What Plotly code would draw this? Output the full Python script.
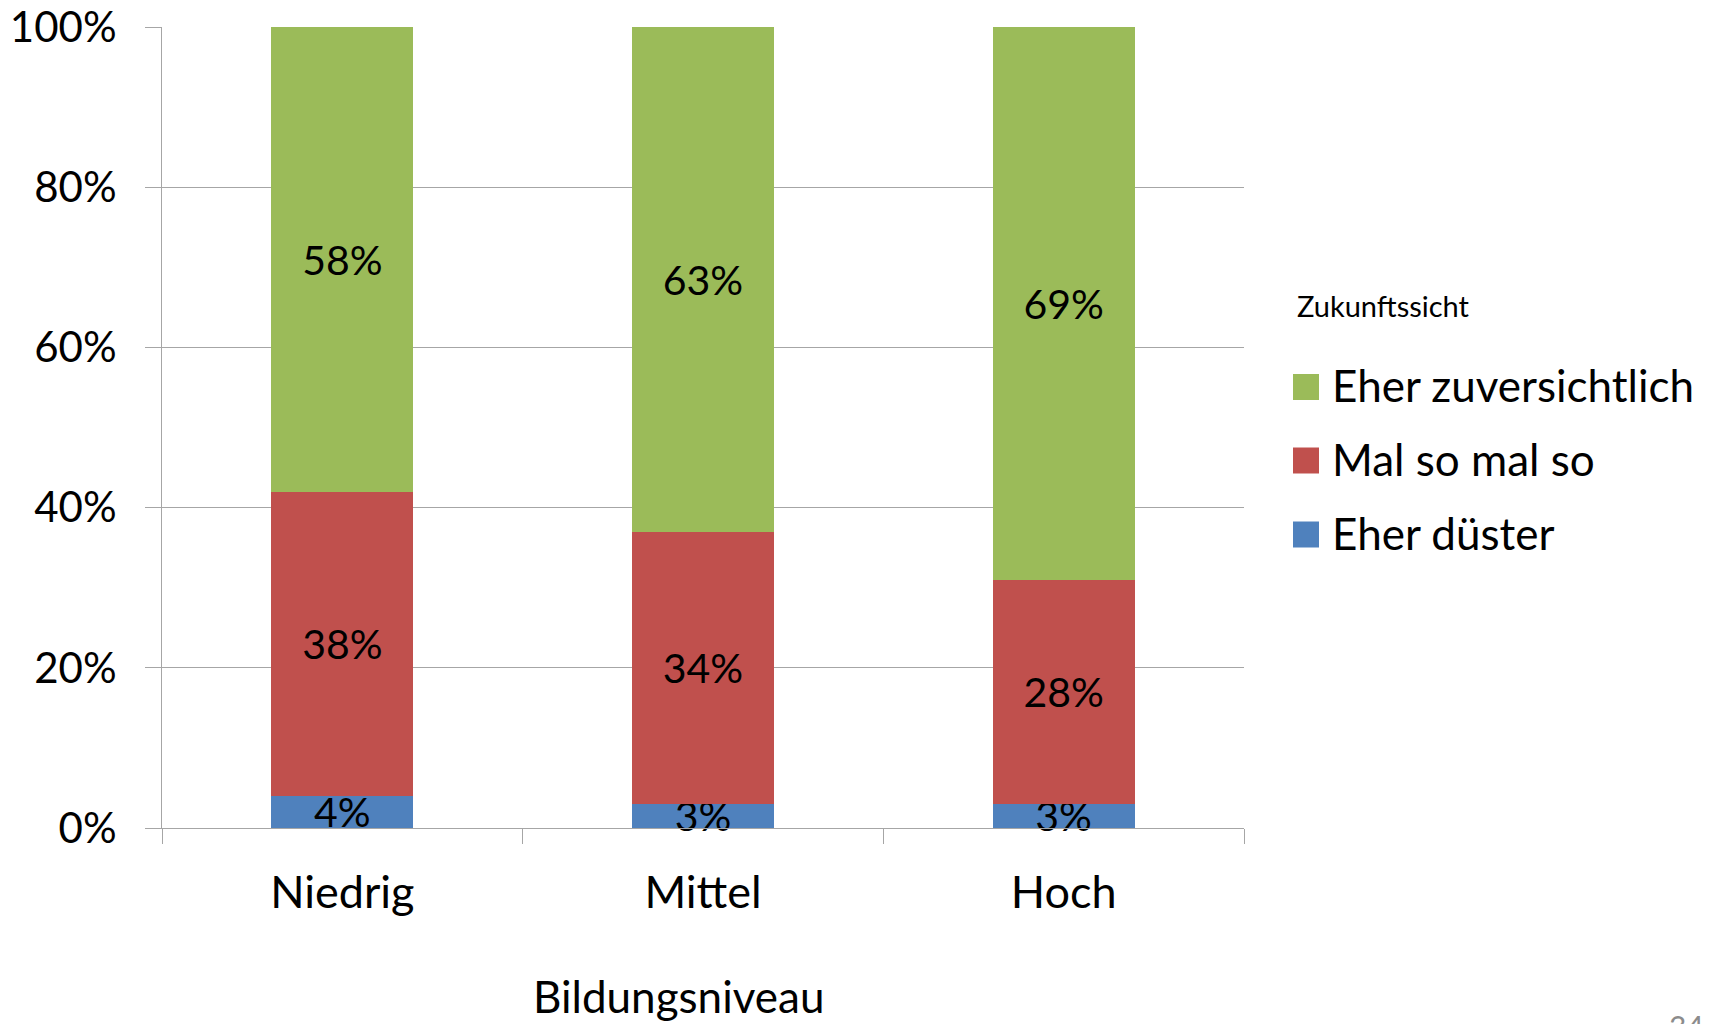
import plotly.graph_objects as go

# Survey shares by education level (stacked to 100 %)
categories = ["Niedrig", "Mittel", "Hoch"]
series_names = ["Eher düster", "Mal so mal so", "Eher zuversichtlich"]
duester = [4, 3, 3]
mal_so = [38, 34, 28]
zuversichtlich = [58, 63, 69]
series_values = [duester, mal_so, zuversichtlich]
series_colors = ["#4F81BD", "#C0504D", "#9BBB59"]

legend_title = "Zukunftssicht"
axis_title = "Bildungsniveau"
page_number = "34"

W, H = 1715, 1024
M_L, M_R, M_T, M_B = 162, 471, 27, 196
PLOT_W = W - M_L - M_R
PLOT_H = H - M_T - M_B
FONT = "Lato"
GRID = "#A6A6A6"


def px_x(x):
    return (x - M_L) / PLOT_W


def px_y(y):
    return (H - M_B - y) / PLOT_H


fig = go.Figure()
for name, vals, color in zip(series_names, series_values, series_colors):
    fig.add_trace(go.Bar(
        x=categories,
        y=[v / 100 for v in vals],
        name=name,
        marker=dict(color=color, line=dict(width=0)),
        text=[f"{v}%" for v in vals],
        textposition="inside",
        insidetextanchor="middle",
        constraintext="none",
        cliponaxis=False,
        textfont=dict(family=FONT, size=41, color="black"),
        showlegend=False,
    ))

# Legend drawn as swatches + labels, top entry first
shapes = []
annotations = []
entry_y = [387, 460.5, 534.5]
for (name, color), yc in zip(reversed(list(zip(series_names, series_colors))), entry_y):
    shapes.append(dict(type="rect", xref="paper", yref="paper",
                       x0=px_x(1293), x1=px_x(1319), y0=px_y(yc + 13), y1=px_y(yc - 13),
                       fillcolor=color, line=dict(width=0)))
    annotations.append(dict(text=name, xref="paper", yref="paper",
                            x=px_x(1330), y=px_y(yc - 2), xanchor="left", yanchor="middle",
                            showarrow=False, font=dict(family=FONT, size=44, color="black")))

annotations.append(dict(text=legend_title, xref="paper", yref="paper",
                        x=px_x(1295), y=px_y(306), xanchor="left", yanchor="middle",
                        showarrow=False, font=dict(family=FONT, size=29, color="black")))
annotations.append(dict(text=axis_title, xref="paper", yref="paper",
                        x=px_x(678), y=px_y(996), xanchor="center", yanchor="middle",
                        showarrow=False, font=dict(family=FONT, size=44, color="black")))
annotations.append(dict(text=page_number, xref="paper", yref="paper",
                        x=px_x(1686), y=px_y(1006), xanchor="center", yanchor="top",
                        showarrow=False, font=dict(family=FONT, size=30, color="#8C8C8C")))

fig.update_layout(
    width=W, height=H,
    margin=dict(l=M_L, r=M_R, t=M_T, b=M_B, pad=0, autoexpand=False),
    barmode="stack",
    bargap=0.606,
    plot_bgcolor="white",
    paper_bgcolor="white",
    font=dict(family=FONT, color="black"),
    shapes=shapes,
    annotations=annotations,
    showlegend=False,
)
fig.update_xaxes(
    type="category",
    automargin=False,
    showgrid=False,
    showline=True, linecolor=GRID, linewidth=1,
    ticks="outside", tickson="boundaries", ticklen=15, tickcolor=GRID, tickwidth=1,
    tickfont=dict(family=FONT, size=45, color="black"),
    ticklabelstandoff=25,
)
fig.update_yaxes(
    automargin=False,
    range=[0, 1], dtick=0.2, tickformat=".0%",
    showgrid=True, gridcolor=GRID, gridwidth=1,
    zeroline=False,
    showline=True, linecolor=GRID, linewidth=1,
    ticks="outside", ticklen=16, tickcolor=GRID, tickwidth=1,
    tickfont=dict(family=FONT, size=42, color="black"),
    ticklabelstandoff=20,
)

fig.write_html("out.html")
